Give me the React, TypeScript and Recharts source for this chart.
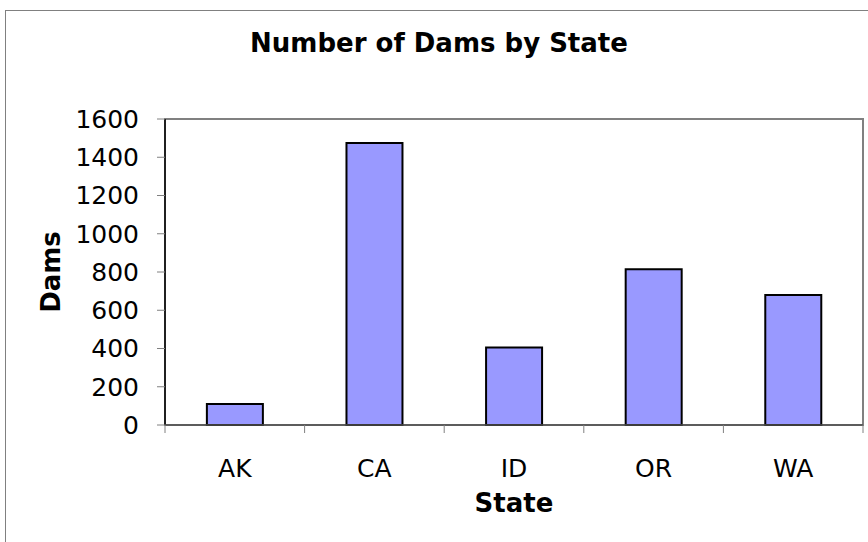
import React from 'react';
import { BarChart, Bar, XAxis, YAxis, ReferenceArea, ReferenceLine } from 'recharts';

const states = ['AK', 'CA', 'ID', 'OR', 'WA'];
const dams = [110, 1475, 405, 815, 680];
const damTicks = [0, 200, 400, 600, 800, 1000, 1200, 1400, 1600];
// Excel puts the category ticks between the bars
const boundaryTicks = [0, 1, 2, 3, 4, 5];

const FONT = '"DejaVu Sans", Verdana, sans-serif';

const App: React.FC = () => {
  const data = states.map((state, i) => ({ state, dams: dams[i], slot: i + 0.5 }));

  return (
    <div
      style={{
        position: 'absolute',
        left: 0,
        top: 0,
        width: 868,
        height: 542,
        overflow: 'hidden',
        background: '#fff',
        fontFamily: FONT,
      }}
    >
      {/* outer chart frame */}
      <div
        style={{
          position: 'absolute',
          left: 5,
          top: 10,
          width: 900,
          height: 600,
          border: '1px solid #808080',
        }}
      />
      <div
        style={{
          position: 'absolute',
          left: 0,
          top: 30,
          width: 878,
          textAlign: 'center',
          fontSize: 26,
          lineHeight: '26px',
          fontWeight: 'bold',
          color: '#000',
        }}
      >
        Number of Dams by State
      </div>
      <div style={{ position: 'absolute', left: 0, top: 0 }}>
        <BarChart
          width={868}
          height={542}
          data={data}
          margin={{ top: 119, right: 5, bottom: 57, left: 85 }}
          barCategoryGap="30%"
        >
          <XAxis
            xAxisId="bounds"
            type="number"
            dataKey="slot"
            domain={[0, 5]}
            allowDataOverflow
            ticks={boundaryTicks}
            interval={0}
            height={1}
            tickFormatter={() => ''}
            tickSize={8}
            tickLine={{ stroke: '#808080' }}
            axisLine={false}
          />
          <XAxis
            xAxisId="cat"
            dataKey="state"
            height={59}
            axisLine={false}
            tickLine={false}
            tickSize={0}
            tickMargin={33}
            tick={{ fill: '#000', fontSize: 25 }}
            label={{
              content: ({ viewBox }: any) => (
                <text
                  x={viewBox.x + viewBox.width / 2}
                  y={viewBox.y + viewBox.height + 27}
                  textAnchor="middle"
                  fontSize={26}
                  fontWeight="bold"
                  fill="#000"
                >
                  State
                </text>
              ),
            }}
          />
          <YAxis
            yAxisId="left"
            width={80}
            domain={[0, 1600]}
            ticks={damTicks}
            tickSize={8}
            tickMargin={18}
            tickLine={{ stroke: '#808080' }}
            axisLine={false}
            tick={{ fill: '#000', fontSize: 25 }}
            label={{
              content: ({ viewBox }: any) => {
                const x = viewBox.x - 25;
                const y = viewBox.y + viewBox.height / 2;
                return (
                  <text
                    x={x}
                    y={y}
                    transform={`rotate(-90, ${x}, ${y})`}
                    textAnchor="middle"
                    fontSize={26}
                    fontWeight="bold"
                    fill="#000"
                  >
                    Dams
                  </text>
                );
              },
            }}
          />
          {/* plot-area frame, grey on top and right */}
          <ReferenceArea
            xAxisId="bounds"
            yAxisId="left"
            x1={0}
            x2={5}
            y1={0}
            y2={1600}
            fill="none"
            fillOpacity={0}
            stroke="#808080"
            strokeWidth={2}
            ifOverflow="visible"
          />
          <ReferenceLine xAxisId="bounds" yAxisId="left" x={0} stroke="#000" strokeWidth={1.5} ifOverflow="visible" />
          <ReferenceLine xAxisId="bounds" yAxisId="left" y={0} stroke="#505050" strokeWidth={1.5} ifOverflow="visible" />
          <Bar
            xAxisId="cat"
            yAxisId="left"
            dataKey="dams"
            fill="#9999FF"
            stroke="#000"
            strokeWidth={2}
            isAnimationActive={false}
          />
        </BarChart>
      </div>
    </div>
  );
};

export default App;
